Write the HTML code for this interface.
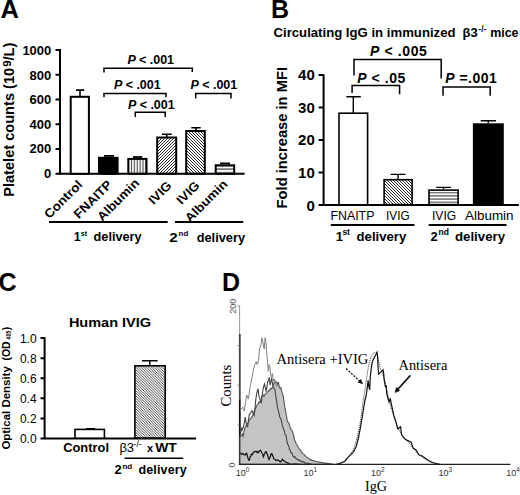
<!DOCTYPE html>
<html><head><meta charset="utf-8">
<style>
html,body{margin:0;padding:0;background:#fff;width:520px;height:495px;overflow:hidden}
svg{display:block}
text{font-family:"Liberation Sans",sans-serif}
.b{font-weight:bold}
.i{font-style:italic}
.s{font-family:"Liberation Serif",serif}
</style></head><body>
<svg width="520" height="495" viewBox="0 0 520 495">
<defs>
<pattern id="hfw" patternUnits="userSpaceOnUse" width="3" height="3">
<path d="M-1,1 l2,-2 M0,3 l3,-3 M2,4 l2,-2" stroke="#111" stroke-width="0.9"/>
</pattern>
<pattern id="hbk" patternUnits="userSpaceOnUse" width="3" height="3">
<path d="M-1,2 l2,2 M0,0 l3,3 M2,-1 l2,2" stroke="#111" stroke-width="0.9"/>
</pattern>
<pattern id="hbk2" patternUnits="userSpaceOnUse" width="2.6" height="2.6">
<path d="M-1,1.6 l2,2 M0,0 l2.6,2.6 M1.6,-1 l2,2" stroke="#222" stroke-width="0.8"/>
</pattern>
<pattern id="vst" patternUnits="userSpaceOnUse" width="2.9" height="10" x="0.4">
<rect x="0" y="0" width="1.1" height="10" fill="#444"/>
</pattern>
<pattern id="hst" patternUnits="userSpaceOnUse" width="10" height="3.5" y="0.3">
<rect x="0" y="0" width="10" height="1.8" fill="#777"/>
</pattern>
<pattern id="hst2" patternUnits="userSpaceOnUse" width="10" height="3.2" y="-0.1">
<rect x="0" y="0" width="10" height="1.5" fill="#777"/>
</pattern>
</defs>

<!-- ================= PANEL A ================= -->
<text class="b" x="0.5" y="18.2" font-size="25.5">A</text>
<text class="b" font-size="14.6" transform="translate(14,196.8) rotate(-90)">Platelet counts (10<tspan font-size="11.5" dy="-3" dx="1">9</tspan><tspan dy="3">/L)</tspan></text>
<g font-size="13" class="b" text-anchor="end">
<text x="51.3" y="55.1">1000</text>
<text x="51.3" y="79.6">800</text>
<text x="51.3" y="104.1">600</text>
<text x="51.3" y="128.6">400</text>
<text x="51.3" y="153.1">200</text>
<text x="51.3" y="177.6">0</text>
</g>
<g stroke="#000" stroke-width="2" fill="none">
<path d="M60,49 V174.8"/>
<path d="M55.5,50 H60 M55.5,74.76 H60 M55.5,99.52 H60 M55.5,124.28 H60 M55.5,149.04 H60"/>
<path d="M55.5,173.8 H244.6"/>
</g>
<!-- bars A -->
<g stroke="#000" stroke-width="2">
<path d="M80,96 V90.1 M76,90.1 H84.2" fill="none" stroke-width="1.6"/>
<rect x="70.7" y="96.8" width="18.2" height="77" fill="#fff"/>
<path d="M104,155.9 H114" fill="none" stroke-width="1.8"/>
<rect x="99" y="157.8" width="18.6" height="16" fill="#000"/>
<path d="M133,157 H142.3" fill="none" stroke-width="1.8"/>
<rect x="128.3" y="158.9" width="18.2" height="14.9" fill="url(#vst)"/>
<path d="M166.7,137 V134.2 M161.9,134.2 H171.7" fill="none" stroke-width="1.6"/>
<rect x="157.2" y="137.5" width="19" height="36.3" fill="url(#hfw)"/>
<path d="M195.9,131 V127.8 M191.3,127.8 H200.7" fill="none" stroke-width="1.6"/>
<rect x="186.2" y="131" width="18.6" height="42.8" fill="url(#hbk)"/>
<path d="M220,163.4 H230" fill="none" stroke-width="1.8"/>
<rect x="215.7" y="165.3" width="18.5" height="8.5" fill="url(#hst)"/>
</g>
<!-- brackets A -->
<g stroke="#000" stroke-width="1.5" fill="none">
<path d="M104,72.5 V68.2 H192.3 V72"/>
<path d="M104,97.2 V93.5 H166 V97.2"/>
<path d="M135.3,117 V112.3 H165.2 V117"/>
<path d="M195.7,98.5 V93.5 H231 V98.5"/>
</g>
<g font-size="12.5" class="b">
<text x="127.4" y="64.1" textLength="46.6" lengthAdjust="spacing"><tspan class="i">P</tspan> &lt; .001</text>
<text x="114" y="88.5" textLength="46.6" lengthAdjust="spacing"><tspan class="i">P</tspan> &lt; .001</text>
<text x="128" y="109.4" textLength="46.6" lengthAdjust="spacing"><tspan class="i">P</tspan> &lt; .001</text>
<text x="190.6" y="88.5" textLength="46.6" lengthAdjust="spacing"><tspan class="i">P</tspan> &lt; .001</text>
</g>
<!-- x labels A -->
<g font-size="12.5" class="b" text-anchor="end" lengthAdjust="spacingAndGlyphs">
<text textLength="48" lengthAdjust="spacingAndGlyphs" transform="translate(83.2,185.4) rotate(-45)">Control</text>
<text textLength="48" lengthAdjust="spacingAndGlyphs" transform="translate(112.8,185.4) rotate(-45)">FNAITP</text>
<text textLength="53.5" lengthAdjust="spacingAndGlyphs" transform="translate(140,183.8) rotate(-45)">Albumin</text>
<text textLength="27" lengthAdjust="spacingAndGlyphs" transform="translate(172.5,186.2) rotate(-45)">IVIG</text>
<text textLength="27" lengthAdjust="spacingAndGlyphs" transform="translate(200.5,186.2) rotate(-45)">IVIG</text>
<text textLength="54" lengthAdjust="spacingAndGlyphs" transform="translate(228.3,184.8) rotate(-45)">Albumin</text>
</g>
<g stroke="#000" stroke-width="2">
<path d="M49,222.1 H167.7 M175,222.1 H243.3"/>
</g>
<g class="b">
<text x="73.8" y="241.4" font-size="12.5">1</text>
<text x="80.8" y="235.5" font-size="7">st</text>
<text x="93.6" y="241.4" font-size="12.5" textLength="48" lengthAdjust="spacingAndGlyphs">delivery</text>
<text x="169.3" y="241.8" font-size="12.5" textLength="8.4" lengthAdjust="spacingAndGlyphs">2</text>
<text x="178.6" y="235.6" font-size="8">nd</text>
<text x="196.7" y="241.8" font-size="12.5" textLength="48.4" lengthAdjust="spacingAndGlyphs">delivery</text>
</g>

<!-- ================= PANEL B ================= -->
<text class="b" x="271" y="17.6" font-size="25">B</text>
<text class="b" x="273.5" y="36.5" font-size="13" textLength="182" lengthAdjust="spacingAndGlyphs">Circulating IgG in immunized</text>
<text class="b" x="462.6" y="36.5" font-size="13">β3<tspan font-size="8.5" dy="-5" dx="0.6">-/-</tspan></text>
<text class="b" x="490.2" y="36.5" font-size="13" textLength="28.3" lengthAdjust="spacingAndGlyphs">mice</text>
<text class="b" font-size="14.4" textLength="141.4" lengthAdjust="spacingAndGlyphs" transform="translate(286.5,208.4) rotate(-90)">Fold increase in MFI</text>
<g font-size="15" class="b" text-anchor="end">
<text x="314.8" y="79.5">40</text>
<text x="314.8" y="112.5">30</text>
<text x="314.8" y="145.4">20</text>
<text x="314.8" y="178.4">10</text>
<text x="314.8" y="211.4">0</text>
</g>
<g stroke="#000" stroke-width="2" fill="none">
<path d="M323.6,74.4 V206"/>
<path d="M318.6,75.1 H323.6 M318.6,107.6 H323.6 M318.6,140.1 H323.6 M318.6,172.6 H323.6"/>
<path d="M318.6,205 H518.9"/>
</g>
<g stroke="#000" stroke-width="1.6">
<path d="M353.3,113 V96.8 M346.3,96.8 H360.8" fill="none" stroke-width="1.4"/>
<rect x="339" y="113.2" width="28.6" height="91.6" fill="#fff"/>
<path d="M398.1,179 V174.4 M390.7,174.4 H405.6" fill="none" stroke-width="1.4"/>
<rect x="384.1" y="179.7" width="28" height="24.9" fill="url(#hbk)"/>
<path d="M443.5,189 V187.4 M436.2,187.4 H450.9" fill="none" stroke-width="1.4"/>
<rect x="429" y="190.1" width="29.1" height="14.5" fill="url(#hst2)"/>
<path d="M488.3,123 V120.7 M480.7,120.7 H496" fill="none" stroke-width="1.4"/>
<rect x="473.7" y="124.1" width="29.3" height="80.5" fill="#000"/>
</g>
<g stroke="#000" stroke-width="1.5" fill="none">
<path d="M354,75.6 V59.6 H441.2 V78.5"/>
<path d="M352.1,92.9 V85.6 H399.6 V94.2"/>
<path d="M443,95.8 V87.1 H490.2 V95.8"/>
</g>
<g font-size="14" class="b">
<text x="370.1" y="55.7" textLength="56.8" lengthAdjust="spacing"><tspan class="i">P</tspan> &lt; .005</text>
<text x="357.2" y="82.5" textLength="48.2" lengthAdjust="spacing"><tspan class="i">P</tspan> &lt; .05</text>
<text x="445.2" y="83.3" textLength="51.6" lengthAdjust="spacing"><tspan class="i">P</tspan> =.001</text>
</g>
<g font-size="12">
<text x="330.4" y="219.6" textLength="44" lengthAdjust="spacingAndGlyphs">FNAITP</text>
<text x="386" y="219.6" textLength="23.6" lengthAdjust="spacingAndGlyphs">IVIG</text>
<text x="432" y="219.6" textLength="24.2" lengthAdjust="spacingAndGlyphs">IVIG</text>
<text x="465" y="219.6" textLength="48.6" lengthAdjust="spacingAndGlyphs">Albumin</text>
</g>
<g stroke="#000" stroke-width="2">
<path d="M330.8,225 H414.4 M428.7,225 H506.5"/>
</g>
<g class="b">
<text x="335.8" y="241.2" font-size="13">1</text>
<text x="342.4" y="235" font-size="8.5">st</text>
<text x="356.6" y="241.2" font-size="13" textLength="49.6" lengthAdjust="spacingAndGlyphs">delivery</text>
<text x="430.4" y="241" font-size="13">2</text>
<text x="438.6" y="234.6" font-size="8.5">nd</text>
<text x="455" y="241" font-size="13" textLength="50" lengthAdjust="spacingAndGlyphs">delivery</text>
</g>

<!-- ================= PANEL C ================= -->
<text class="b" x="-1.5" y="291" font-size="25">C</text>
<text class="b" x="68.9" y="326.9" font-size="13.5" textLength="82.2" lengthAdjust="spacingAndGlyphs">Human IVIG</text>
<g class="b" font-size="10.5">
<text textLength="83.4" lengthAdjust="spacingAndGlyphs" transform="translate(10.2,449.6) rotate(-90)">Optical Density</text>
<text transform="translate(10.2,360.6) rotate(-90)">(OD</text>
<text font-size="6.6" textLength="8.6" lengthAdjust="spacingAndGlyphs" transform="translate(10.6,339.4) rotate(-90)">405</text>
<text transform="translate(10.2,330.2) rotate(-90)">)</text>
</g>
<g font-size="12" text-anchor="end">
<text x="36.6" y="342.9">1.0</text>
<text x="36.6" y="362.8">0.8</text>
<text x="36.6" y="382.8">0.6</text>
<text x="36.6" y="402.7">0.4</text>
<text x="36.6" y="422.6">0.2</text>
<text x="36.6" y="442.5">0.0</text>
</g>
<g stroke="#000" stroke-width="2" fill="none">
<path d="M44.6,337.2 V439.2"/>
<path d="M40.5,338.1 H44.6 M40.5,358.2 H44.6 M40.5,378.2 H44.6 M40.5,398.3 H44.6 M40.5,418.4 H44.6"/>
<path d="M40.5,438.4 H196"/>
</g>
<g stroke="#000" stroke-width="1.6">
<path d="M86,428.6 H95" fill="none" stroke-width="1.2"/>
<rect x="75" y="429.4" width="29.4" height="8.8" fill="#fff"/>
<path d="M149.8,365 V360.8 M142,360.8 H157.6" fill="none" stroke-width="1.4"/>
<rect x="134.9" y="365.8" width="30.3" height="72.4" fill="url(#hbk2)"/>
</g>
<g class="b">
<text x="63.2" y="452.3" font-size="13" textLength="45.8" lengthAdjust="spacingAndGlyphs">Control</text>
<text x="119.4" y="452.2" font-size="13" font-weight="normal">β3</text>
<text x="133.6" y="446.6" font-size="8.5" font-weight="normal" textLength="8" lengthAdjust="spacingAndGlyphs">-/-</text>
<text x="146.9" y="452.2" font-size="11">x</text>
<text x="155.2" y="452.2" font-size="12.5" textLength="21.6" lengthAdjust="spacingAndGlyphs">WT</text>
</g>
<path d="M124.6,458.3 H183.2" stroke="#000" stroke-width="1.5"/>
<g class="b">
<text x="114.6" y="474.3" font-size="12.5" textLength="7.2" lengthAdjust="spacingAndGlyphs">2</text>
<text x="122.4" y="468.6" font-size="8">nd</text>
<text x="138.4" y="474.3" font-size="12.5" textLength="48.4" lengthAdjust="spacing">delivery</text>
</g>

<!-- ================= PANEL D ================= -->
<text class="b" x="221.9" y="290.8" font-size="25">D</text>
<g fill="#555" font-size="9" class="s">
<text transform="translate(236.4,313.8) rotate(-90)">200</text>
<text transform="translate(235.3,467.6) rotate(-90)">0</text>
</g>
<text class="s" font-size="14.8" transform="translate(231.3,406.6) rotate(-90)">Counts</text>
<g fill="#333" font-size="9">
<text x="235.8" y="476.2">10</text><text x="245.8" y="472" font-size="6.5">0</text>
<text x="303.4" y="476.2">10</text><text x="313.4" y="472" font-size="6.5">1</text>
<text x="371.0" y="476.2">10</text><text x="381.0" y="472" font-size="6.5">2</text>
<text x="438.6" y="476.2">10</text><text x="448.6" y="472" font-size="6.5">3</text>
<text x="506.2" y="476.2">10</text><text x="516.2" y="472" font-size="6.5">4</text>
</g>
<text class="s" x="365" y="491.3" font-size="14.2">IgG</text>
<text class="s" x="276.4" y="363.5" font-size="14.5" textLength="92" lengthAdjust="spacingAndGlyphs">Antisera +IVIG</text>
<text class="s" x="398.5" y="369.9" font-size="14.5" textLength="48.8" lengthAdjust="spacingAndGlyphs">Antisera</text>
<!-- axes D -->
<path d="M239.6,306 V335" stroke="#999" stroke-width="1"/>
<path d="M239.8,334 V400" stroke="#444" stroke-width="1.8"/>
<path d="M239.8,400 V465" stroke="#111" stroke-width="1.8"/>
<path d="M237.6,306 H239.6 M237.6,345.6 H239.6 M237.6,385.2 H239.6 M237.6,424.8 H239.6" stroke="#777" stroke-width="1"/>
<!-- HIST START -->
<path fill="#c4c4c4" stroke="#555" stroke-width="1.1" d="M240,464.4 L240.0,437.1 240.8,436.1 241.6,435.7 242.4,434.0 243.2,436.2 244.0,431.9 244.8,427.5 245.6,426.8 246.4,425.1 247.2,423.2 248.0,423.2 248.8,421.1 249.6,420.0 250.4,418.5 251.2,418.2 252.0,416.5 252.8,415.8 253.6,412.8 254.4,411.2 255.2,408.2 256.0,407.6 256.8,405.2 257.6,404.3 258.4,403.4 259.2,401.5 260.0,402.6 260.8,402.4 261.6,397.3 262.4,395.9 263.2,395.0 264.0,396.3 264.8,394.4 265.6,394.2 266.4,393.3 267.2,392.4 268.0,391.7 268.8,390.4 269.6,390.8 270.4,388.6 271.2,389.1 272.0,387.7 272.8,387.6 273.6,383.9 274.4,382.4 275.2,381.7 276.0,382.0 276.8,382.0 277.6,384.6 278.4,382.0 279.2,386.6 280.0,388.3 280.8,387.6 281.6,390.9 282.4,393.6 283.2,395.7 284.0,401.4 284.8,407.4 285.6,410.5 286.4,415.9 287.2,420.2 288.0,422.4 288.8,422.9 289.6,425.5 290.4,428.1 291.2,430.1 292.0,430.3 292.8,432.6 293.6,435.0 294.4,439.7 295.2,440.9 296.0,443.6 296.8,444.5 297.6,445.6 298.4,447.7 299.2,448.9 300.0,449.5 300.8,450.6 301.6,452.6 302.4,453.0 303.2,453.9 304.0,454.4 304.8,455.1 305.6,456.4 306.4,456.9 307.2,457.3 308.0,458.0 308.8,458.4 309.6,459.3 310.4,459.9 311.2,459.7 312.0,460.6 312.8,460.4 313.6,460.8 314.4,460.9 315.2,461.3 316.0,461.6 316.8,461.7 317.6,461.8 318.4,461.9 319.2,462.0 320.0,462.1 320.8,462.4 321.6,462.6 322.4,462.8 323.2,462.9 324.0,463.2 324.8,463.0 325.6,463.0 326.4,463.4 327.2,463.2 328.0,463.5 328.8,463.4 329.6,463.7 330.4,463.6 331.2,464.0 332.0,464.1 332.8,464.1 333.6,464.4 334,464.4 Z"/>
<path fill="none" stroke="#444" stroke-width="1.1" d="M240.5,434.1 241.3,428.3 242.1,430.3 242.9,428.2 243.7,425.6 244.5,421.6 245.3,417.1 246.1,423.1 246.9,426.1 247.7,426.9 248.5,419.3 249.3,414.6 250.1,413.7 250.9,412.3 251.7,410.8 252.5,411.2 253.3,414.4 254.1,415.6 254.9,409.7 255.7,400.4 256.5,394.8 257.3,391.0 258.1,388.9 258.9,396.1 259.7,398.4 260.5,400.3 261.3,403.1 262.1,395.8 262.9,390.2 263.7,386.5 264.5,383.9 265.3,387.3 266.1,391.6 266.9,387.7 267.7,381.5 268.5,380.7 269.3,377.0 270.1,385.3 270.9,381.9 271.7,378.2 272.5,383.5 273.3,387.9 274.1,388.3 274.9,389.5 275.7,395.7 276.5,400.4 277.3,406.8 278.1,409.9 278.9,412.8 279.7,417.0 280.5,418.3 281.3,420.2 282.1,424.7 282.9,427.3 283.7,429.2 284.5,431.3 285.3,435.0 286.1,435.3 286.9,441.5 287.7,444.5 288.5,445.2 289.3,448.9 290.1,450.0 290.9,452.7 291.7,452.6 292.5,454.7 293.3,456.4 294.1,457.4 294.9,456.6 295.7,458.2 296.5,459.0 297.3,459.1 298.1,460.3 298.9,459.7 299.7,460.7 300.5,460.6 301.3,461.8 302.1,461.6 302.9,461.8 303.7,461.7 304.5,462.9 305.3,462.9 306.1,463.1 306.9,463.4 307.7,463.4 308.5,463.4 309.3,463.6 310.1,463.7 310.9,464.1 311.7,464.0"/>
<path fill="none" stroke="#808080" stroke-width="1" d="M240.3,407.0 241.1,408.4 241.9,408.4 242.7,407.2 243.5,410.4 244.3,410.5 245.1,404.9 245.9,400.1 246.7,394.9 247.5,397.2 248.3,399.1 249.1,394.2 249.9,387.6 250.7,384.5 251.5,379.8 252.3,376.5 253.1,371.6 253.9,368.0 254.7,364.7 255.5,363.0 256.3,361.7 257.1,364.6 257.9,363.2 258.7,358.4 259.5,348.3 260.3,347.1 261.1,344.5 261.9,337.8 262.7,340.5 263.5,347.1 264.3,349.1 265.1,337.7 265.9,341.3 266.7,352.6 267.5,361.7 268.3,371.4 269.1,364.7 269.9,366.7 270.7,374.9 271.5,377.6 272.3,373.5 273.1,378.5 273.9,381.4 274.7,379.1 275.5,382.2 276.3,386.2 277.1,386.2 277.9,384.4"/>
<path fill="none" stroke="#111" stroke-width="1.2" d="M240.3,452.8 241.0,453.3 241.7,454.3 242.4,454.1 243.1,453.6 243.8,454.6 244.5,454.9 245.2,455.1 245.9,453.5 246.6,453.3 247.3,455.3 248.0,458.2 248.7,460.2 249.4,460.0 250.1,457.0 250.8,456.1 251.5,454.1 252.2,454.7 252.9,453.4 253.6,452.3 254.3,451.6 255.0,451.4 255.7,451.7 256.4,451.3 257.1,452.5 257.8,451.9 258.5,452.6 259.2,451.0 259.9,450.5 260.6,450.2 261.3,451.8 262.0,453.3 262.7,454.3 263.4,456.8 264.1,454.8 264.8,453.4 265.5,451.7 266.2,451.6 266.9,453.3 267.6,455.3 268.3,457.6 269.0,459.6 269.7,458.3 270.4,456.2 271.1,454.0 271.8,453.6 272.5,455.3 273.2,456.9 273.9,459.0 274.6,459.0 275.3,459.7 276.0,460.6 276.7,460.2 277.4,460.2 278.1,460.1 278.8,460.6 279.5,460.8 280.2,462.1 280.9,461.8 281.6,460.5 282.3,459.2 283.0,459.8 283.7,460.8 284.4,461.3 285.1,461.6 285.8,462.1 286.5,462.2 287.2,462.9 287.9,462.9 288.6,463.2 289.3,463.9 290.0,464.1 290.7,464.4 291.4,464.4 292.1,464.4 292.8,464.3 293.5,464.1 294.2,464.0 294.9,463.9 295.6,464.0 296.3,464.1 297.0,464.2 297.7,464.3 298.4,464.4 299.1,464.3 299.8,464.4"/>
<!-- HIST END -->
<!-- x axis D -->
<path d="M238.7,464.4 H510.4" stroke="#222" stroke-width="1.2"/>
<!-- right histogram -->
<path fill="none" stroke="#333" stroke-width="1" stroke-dasharray="1,1" d="M338,464 L343,462 346,459 349,456 352,452 354.5,447 356.5,440 358.5,431 360,424 361.5,414 363,402 364.5,393 366,382 367.5,372 369,364 370.5,358 372.5,354 375,352 377,353 378.5,360 380,368 382,372 384,378 386,386 388,395 390,404 392.5,412 395,420 398,428 402,435 406,440 410,444 414,449 418,454 422,457 427,460 432,462.5 437,464"/>
<path fill="none" stroke="#111" stroke-width="1.2" d="M336,464.4 L340,463.5 341.9,462.5 344.8,461.5 347.7,457.7 350.6,454.8 353.5,451.9 356.3,446.2 358.3,438.5 360.2,428.8 361.2,423.1 363.1,411.5 365,400 366.1,395.9 367.3,387.4 368.1,380.2 368.8,386.2 369.7,389.8 370.3,376.5 371.8,364.4 372.7,360.8 377,352.3 377.6,357.1 378.2,369.2 378.8,374.1 380,372.9 381.8,371.1 383,369.8 383.6,372.9 384.2,380.2 385.5,387.4 386.1,385 386.7,393.5 387.9,398.3 389.1,402 390.3,398.3 391.5,405 393.8,415.4 395.8,421.2 397.7,428.8 400.6,426.9 401.5,434.6 404.4,438.5 407.3,440.4 411.2,442.3 413.1,448.1 416,450 418.8,454.8 421.7,455.8 424.6,457.7 428.5,460.6 432.3,462.5 436.2,463.5 440,464.4"/>
<!-- arrows -->
<path d="M346.1,368.6 L360.5,381.8" stroke="#111" stroke-width="1.3" stroke-dasharray="2,1.4" fill="none"/>
<path d="M363.2,384.2 L357.6,382.4 L360.8,379 Z" fill="#111"/>
<path d="M410.4,375.4 L396.5,390.8" stroke="#111" stroke-width="1.7" fill="none"/>
<path d="M395.2,392.4 L396.4,387.6 L399.6,390.6 Z" fill="#111" stroke="#111" stroke-width="0.8"/>
</svg>
</body></html>
